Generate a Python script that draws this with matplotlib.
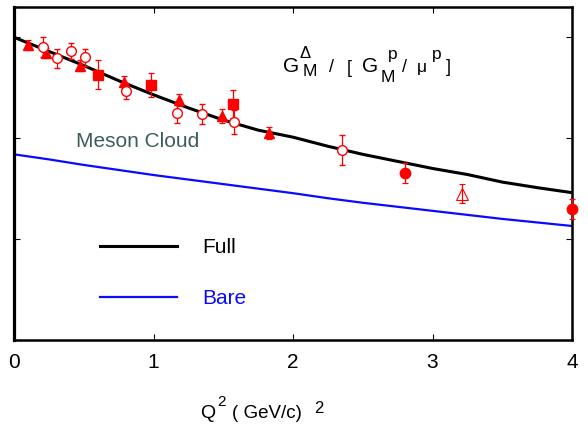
import matplotlib
matplotlib.use("Agg")
import matplotlib.pyplot as plt
import numpy as np

plt.rcParams['font.family'] = ['Liberation Sans', 'DejaVu Sans']

# Theory curves
q2_curve = [0.0, 0.25, 0.5, 0.75, 1.0, 1.25, 1.5, 1.75, 2.0, 2.25, 2.5, 2.75,
            3.0, 3.25, 3.5, 3.75, 4.0]
full_curve = [3.00, 2.86, 2.72, 2.57, 2.43, 2.30, 2.18, 2.08, 2.01, 1.92, 1.84,
              1.77, 1.70, 1.64, 1.565, 1.51, 1.46]
bare_curve = [1.84, 1.79, 1.735, 1.685, 1.635, 1.59, 1.545, 1.50, 1.455, 1.405,
              1.36, 1.32, 1.28, 1.24, 1.20, 1.165, 1.13]

# Experimental points
tri_q2 = [0.10, 0.23, 0.47, 0.79, 1.18, 1.49, 1.83]
tri_val = [2.92, 2.84, 2.72, 2.56, 2.38, 2.22, 2.05]
tri_err = [0.05, 0.05, 0.05, 0.06, 0.06, 0.065, 0.06]

circ_q2 = [0.21, 0.31, 0.41, 0.51, 0.80, 1.17, 1.35, 1.58, 2.35]
circ_val = [2.90, 2.79, 2.86, 2.80, 2.47, 2.25, 2.24, 2.16, 1.88]
circ_err = [0.10, 0.09, 0.08, 0.085, 0.08, 0.10, 0.10, 0.115, 0.15]

sq_q2 = [0.60, 0.985, 1.57]
sq_val = [2.63, 2.53, 2.34]
sq_err = [0.145, 0.12, 0.14]

dot_q2 = [2.80, 4.00]
dot_val = [1.655, 1.30]
dot_err = [0.095, 0.10]

otri_q2 = [3.21]
otri_val = [1.45]
otri_err = [0.095]

W, H = 588, 425
fig = plt.figure(figsize=(W / 100, H / 100), dpi=100)
ax = fig.add_axes([14 / W, 1 - 340 / H, (572 - 14) / W, (340 - 7) / H])

ax.plot(q2_curve, full_curve, color='black', lw=2.2, label='Full', zorder=2)
ax.plot(q2_curve, bare_curve, color='#0a0aff', lw=1.6, label='Bare', zorder=2)

red = '#ff0000'
ekw = dict(ecolor=red, elinewidth=0.9, capsize=2.5, capthick=0.9,
           linestyle='none', zorder=4, clip_on=False)
ax.errorbar(tri_q2, tri_val, yerr=tri_err, fmt='^', color=red, ms=7.5, **ekw)
ax.errorbar(circ_q2, circ_val, yerr=circ_err, fmt='o', mfc='white', mec=red,
            mew=1.0, ms=7, **ekw)
ax.errorbar(sq_q2, sq_val, yerr=sq_err, fmt='s', color=red, ms=7, **ekw)
ax.errorbar(dot_q2, dot_val, yerr=dot_err, fmt='o', color=red, ms=7.5, **ekw)
ax.errorbar(otri_q2, otri_val, yerr=otri_err, fmt='^', mfc='none', mec=red,
            mew=0.8, ms=8.5, **ekw)

ax.set_xlim(0, 4)
ax.set_ylim(0, 3.3)
ax.set_xticks([0, 1, 2, 3, 4])
ax.set_yticks([0, 1, 2, 3])
ax.set_yticklabels([])
ax.tick_params(axis='both', direction='in', length=4, width=0.8,
               top=True, right=True, labelsize=15, pad=9)
ax.xaxis.get_major_ticks()[1].tick1line.set_color('#0a0aff')
for side in ['left', 'right', 'top', 'bottom']:
    ax.spines[side].set_linewidth(1.8)
ax.spines['left'].set_linewidth(2.3)

leg = ax.legend(loc='upper left', bbox_to_anchor=(0.121, 0.362), frameon=False,
                fontsize=15, handlelength=3.7, handletextpad=1.2,
                labelspacing=1.54)
leg.get_texts()[1].set_color('#0a0aff')

ax.text((76 - 14) / (572 - 14), 1 - (147 - 7) / (340 - 7),
        'Meson Cloud', transform=ax.transAxes, fontsize=15, color='#3d5c5c',
        va='baseline', ha='left')


def put(x, y, s, size, **kw):
    fig.text(x / W, 1 - y / H, s, fontsize=size, va='baseline', ha='left', **kw)


# G_M^Δ / [ G_M^p / μ^p ]
put(283, 72, 'G', 15)
put(303, 76, 'M', 12.5)
put(299, 58, 'Δ', 12)
put(329, 72, '/', 13)
put(347, 73, '[', 13)
put(362, 72.5, 'G', 15)
put(381, 81.7, 'M', 12.5)
put(388, 59, 'p', 12.5)
put(402, 72, '/', 13)
put(417, 72, 'μ', 12.5)
put(432, 59, 'p', 12.5)
put(446, 72, ']', 13)

# axis title: Q^2 ( GeV/c) 2
put(200, 418, 'Q', 14)
put(217, 406, '2', 11)
put(232, 418, '( GeV/c)', 13.5)
put(314, 413, '2', 12)

fig.savefig('out.png', dpi=100)
